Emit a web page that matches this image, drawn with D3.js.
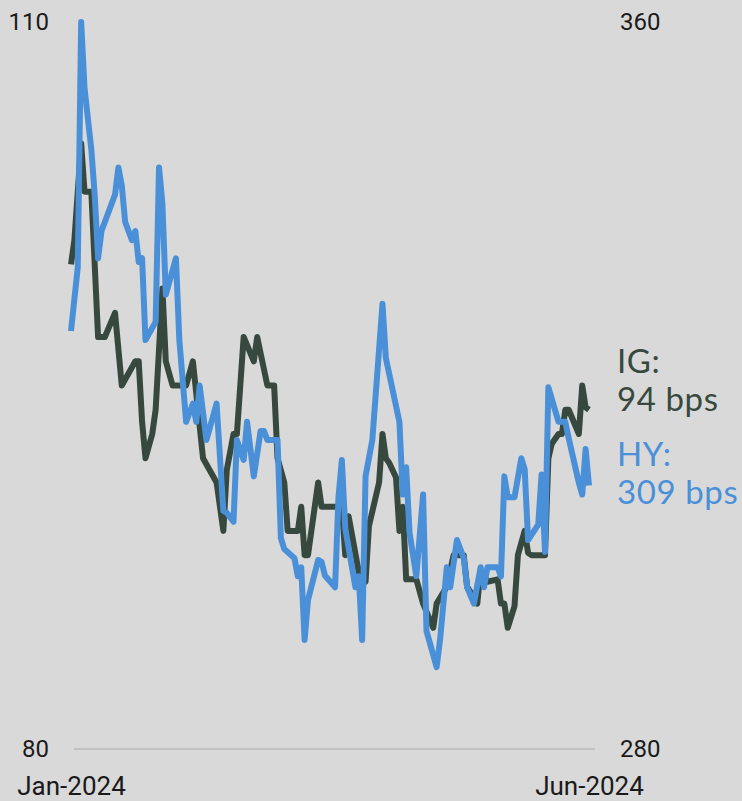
<!DOCTYPE html>
<html>
<head>
<meta charset="utf-8">
<script src="https://cdn.jsdelivr.net/npm/d3@7"></script>
<style>
  html, body { margin: 0; padding: 0; background: #d9d9d9; }
  svg { display: block; }
  .tick text { font-family: Roboto, "Liberation Sans", sans-serif; fill: #1a1a1a; }
  .label { font-family: Lato, "Open Sans", sans-serif; font-size: 33px; letter-spacing: 0.6px; }
</style>
</head>
<body>
<div id="chart"></div>
<script>
// IG spreads (left axis, bps)
const igDates = ["2024-01-02","2024-01-03","2024-01-05","2024-01-06","2024-01-08","2024-01-10","2024-01-12","2024-01-15","2024-01-17","2024-01-21","2024-01-22","2024-01-23","2024-01-24","2024-01-26","2024-01-27","2024-01-29","2024-01-30","2024-02-01","2024-02-05","2024-02-07","2024-02-10","2024-02-14","2024-02-16","2024-02-17","2024-02-19","2024-02-20","2024-02-21","2024-02-22","2024-02-25","2024-02-26","2024-02-29","2024-03-02","2024-03-03","2024-03-05","2024-03-06","2024-03-09","2024-03-10","2024-03-11","2024-03-12","2024-03-15","2024-03-16","2024-03-22","2024-03-23","2024-03-24","2024-03-27","2024-03-29","2024-03-30","2024-04-02","2024-04-03","2024-04-04","2024-04-05","2024-04-07","2024-04-08","2024-04-09","2024-04-10","2024-04-13","2024-04-15","2024-04-18","2024-04-19","2024-04-22","2024-04-24","2024-04-27","2024-04-28","2024-05-01","2024-05-02","2024-05-04","2024-05-07","2024-05-08","2024-05-09","2024-05-10","2024-05-12","2024-05-13","2024-05-15","2024-05-16","2024-05-17","2024-05-21","2024-05-22","2024-05-23","2024-05-25","2024-05-26","2024-05-27","2024-05-28","2024-05-31","2024-06-01","2024-06-02","2024-06-03"];
const igValues = [100,101,105,103,103,97,97,98,95,96,96,93.5,92,93,94,99,96,95,95,96,92,91,89,91.5,93,93,95,97,96,97,95,95,92,91,89,89,90,88,88,91,90,90,88,89.6,87.3,86.9,89.2,91,93,92,91.8,91.2,89,90,87,87,86,85,86,86.7,88,88,86.7,86,87.4,86.9,87,86,86,85,85.9,88,89,88.1,88,88,92,92.6,93,93,94,94,93,95,94.1,94];

// HY spreads (right axis, bps)
const hyDates = ["2024-01-02","2024-01-04","2024-01-05","2024-01-06","2024-01-08","2024-01-09","2024-01-10","2024-01-11","2024-01-15","2024-01-16","2024-01-17","2024-01-18","2024-01-20","2024-01-21","2024-01-22","2024-01-23","2024-01-24","2024-01-27","2024-01-28","2024-01-29","2024-01-30","2024-02-02","2024-02-03","2024-02-05","2024-02-07","2024-02-08","2024-02-09","2024-02-11","2024-02-14","2024-02-16","2024-02-17","2024-02-19","2024-02-20","2024-02-22","2024-02-23","2024-02-25","2024-02-27","2024-02-28","2024-02-29","2024-03-03","2024-03-04","2024-03-05","2024-03-08","2024-03-09","2024-03-10","2024-03-11","2024-03-12","2024-03-15","2024-03-16","2024-03-17","2024-03-20","2024-03-21","2024-03-22","2024-03-23","2024-03-26","2024-03-27","2024-03-28","2024-03-29","2024-03-31","2024-04-03","2024-04-04","2024-04-08","2024-04-09","2024-04-10","2024-04-11","2024-04-13","2024-04-15","2024-04-16","2024-04-19","2024-04-20","2024-04-22","2024-04-23","2024-04-25","2024-04-27","2024-04-28","2024-04-30","2024-05-02","2024-05-03","2024-05-04","2024-05-07","2024-05-08","2024-05-09","2024-05-10","2024-05-12","2024-05-14","2024-05-15","2024-05-16","2024-05-19","2024-05-20","2024-05-21","2024-05-22","2024-05-25","2024-05-27","2024-05-28","2024-05-31","2024-06-01","2024-06-02","2024-06-03"];
const hyValues = [326,333,360,352.7,346,341,334,337,341,344,342,338,336,337,333.6,334,325,327,344,340,330,334,325,316,318,316,320,314,318,306.2,306,305,314,311.8,316,310,315,315,314,314,303.2,302,301,299,300,292,296.4,300.8,300.6,299.1,297.8,307.7,311.8,304.3,297.8,299,292,310,314,329,323,316,308,311,303.8,299,308,293,289,292,300,297.8,303,301,297.8,296,300,297.8,300,300,299,310,307.7,307.7,312,310.8,303,304.7,310.2,301.7,319.8,316,316,314.2,309.3,308,313,309];

const igTicks = [80, 110];
const hyTicks = [280, 360];
const dateTicks = ["2024-01-02", "2024-06-03"];

const labels = [
  { lines: ["IG:", "94 bps"], color: "#37493f" },
  { lines: ["HY:", "309 bps"], color: "#4a90d9" }
];

const width = 742, height = 801;
const igColor = "#37493f", hyColor = "#4a90d9";

const parse = d3.timeParse("%Y-%m-%d");
const ig = igDates.map((d, i) => ({ date: parse(d), value: igValues[i] }));
const hy = hyDates.map((d, i) => ({ date: parse(d), value: hyValues[i] }));

const x = d3.scaleTime()
  .domain([parse(dateTicks[0]), parse(dateTicks[1])])
  .range([71, 589]);
const yIG = d3.scaleLinear().domain(igTicks).range([749, 22]);
const yHY = d3.scaleLinear().domain(hyTicks).range([749, 22]);

const svg = d3.select("#chart").append("svg")
  .attr("width", width)
  .attr("height", height);

svg.append("rect").attr("width", width).attr("height", height).attr("fill", "#d9d9d9");

// baseline
svg.append("line")
  .attr("x1", 74).attr("x2", 595)
  .attr("y1", yIG(80)).attr("y2", yIG(80))
  .attr("stroke", "#c2c2c2")
  .attr("stroke-width", 2);

// left axis
const leftAxis = svg.append("g")
  .attr("transform", "translate(57,0)")
  .call(d3.axisLeft(yIG).tickValues(igTicks).tickSize(0).tickPadding(8));
leftAxis.select(".domain").remove();
leftAxis.selectAll("text").style("font-size", "24px");

// right axis
const rightAxis = svg.append("g")
  .attr("transform", "translate(612,0)")
  .call(d3.axisRight(yHY).tickValues(hyTicks).tickSize(0).tickPadding(8));
rightAxis.select(".domain").remove();
rightAxis.selectAll("text").style("font-size", "24px");

// bottom axis
const bottomAxis = svg.append("g")
  .attr("transform", "translate(0,777)")
  .call(d3.axisBottom(x).tickValues(dateTicks.map(parse)).tickFormat(d3.timeFormat("%b-%Y")).tickSize(0).tickPadding(0));
bottomAxis.select(".domain").remove();
bottomAxis.selectAll("text").style("font-size", "26px");

// lines
const igLine = d3.line().x(d => x(d.date)).y(d => yIG(d.value));
const hyLine = d3.line().x(d => x(d.date)).y(d => yHY(d.value));

svg.append("path")
  .datum(ig)
  .attr("d", igLine)
  .attr("fill", "none")
  .attr("stroke", igColor)
  .attr("stroke-width", 6)
  .attr("stroke-linejoin", "round");

svg.append("path")
  .datum(hy)
  .attr("d", hyLine)
  .attr("fill", "none")
  .attr("stroke", hyColor)
  .attr("stroke-width", 6)
  .attr("stroke-linejoin", "round");

// end labels, one text per line
const labelTops = [373, 466];
labels.forEach((l, i) => {
  l.lines.forEach((s, j) => {
    svg.append("text")
      .attr("class", "label")
      .attr("x", 617)
      .attr("y", labelTops[i] + j * 38)
      .attr("fill", l.color)
      .text(s);
  });
});
</script>
</body>
</html>
